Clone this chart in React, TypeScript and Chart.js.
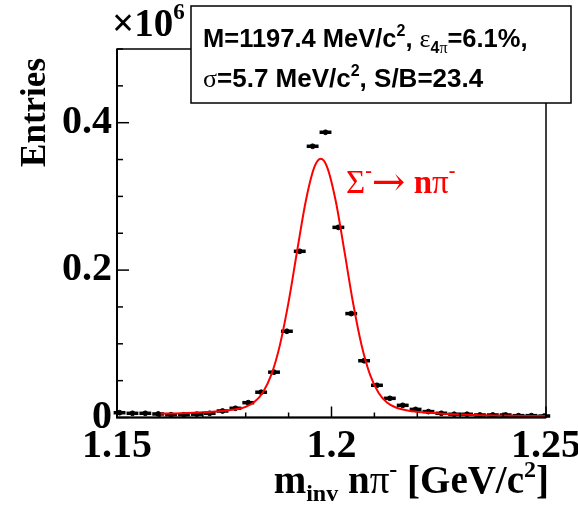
import React, { useEffect, useRef } from 'react';
import { Chart, registerables } from 'chart.js';

Chart.register(...registerables);

// ---- data (values in units of 10^6 entries) ----
const binCenters = [
  1.1506, 1.1536, 1.1566, 1.1596, 1.1626, 1.1656, 1.1686, 1.1716, 1.1746, 1.1776,
  1.1806, 1.1836, 1.1866, 1.1896, 1.1926, 1.1956, 1.1986, 1.2016, 1.2046, 1.2076,
  1.2106, 1.2136, 1.2166, 1.2196, 1.2226, 1.2256, 1.2286, 1.2316, 1.2346, 1.2376,
  1.2406, 1.2436, 1.2466, 1.2496,
];
const counts = [
  0.0065, 0.0057, 0.0057, 0.0048, 0.0038, 0.0038, 0.0045, 0.0057, 0.0088, 0.0125,
  0.0201, 0.0343, 0.0615, 0.117, 0.2255, 0.368, 0.387, 0.258, 0.141, 0.077,
  0.0437, 0.026, 0.0165, 0.011, 0.008, 0.0057, 0.0044, 0.0044, 0.0034, 0.0034,
  0.0034, 0.0025, 0.0025, 0.002,
];
const binHalfWidth = 0.0015;

const curveX = [
  1.16, 1.165, 1.17, 1.175, 1.178, 1.18, 1.182, 1.184, 1.186, 1.188, 1.19, 1.192,
  1.194, 1.196, 1.1975, 1.199, 1.201, 1.203, 1.205, 1.207, 1.209, 1.211, 1.213,
  1.215, 1.218, 1.222, 1.226, 1.23, 1.235, 1.24, 1.245, 1.25,
];
const curveY = [
  0.0052, 0.0058, 0.007, 0.0091, 0.0114, 0.0145, 0.0209, 0.034, 0.0584, 0.0989, 0.1568, 0.2263,
  0.2935, 0.3396, 0.351, 0.3395, 0.2934, 0.226, 0.1564, 0.0984, 0.0578, 0.0332, 0.0201,
  0.0136, 0.0093, 0.0067, 0.0051, 0.004, 0.0031, 0.0026, 0.0022, 0.002,
];

const xTickValues = [1.15, 1.2, 1.25];
const yTickValues = [0, 0.2, 0.4];
const xRange = [1.15, 1.25];
const yRange = [0, 0.5];
const xMinorStep = 0.01;
const yMinorStep = 0.05;

const SERIF = "'Liberation Serif', 'DejaVu Serif', serif";
const SANS = "'Liberation Sans', Arial, sans-serif";

type Seg = { t: string; font: string; dy?: number };

function drawRich(ctx: CanvasRenderingContext2D, segs: Seg[], x: number, y: number, align: 'left' | 'right', color: string) {
  ctx.save();
  ctx.fillStyle = color;
  ctx.textBaseline = 'alphabetic';
  ctx.textAlign = 'left';
  let w = 0;
  for (const s of segs) {
    ctx.font = s.font;
    w += ctx.measureText(s.t).width;
  }
  let cx = align === 'right' ? x - w : x;
  for (const s of segs) {
    ctx.font = s.font;
    ctx.fillText(s.t, cx, y + (s.dy || 0));
    cx += ctx.measureText(s.t).width;
  }
  ctx.restore();
}

const decorPlugin = {
  id: 'decor',
  beforeDatasetsDraw(chart: any) {
    const ctx = chart.ctx as CanvasRenderingContext2D;
    const xs = chart.scales.x;
    const ys = chart.scales.y;
    ctx.save();
    ctx.strokeStyle = '#000';
    ctx.lineWidth = 3.5;
    binCenters.forEach((x, i) => {
      const py = ys.getPixelForValue(counts[i]);
      ctx.beginPath();
      ctx.moveTo(xs.getPixelForValue(x - binHalfWidth) + 0.5, py);
      ctx.lineTo(xs.getPixelForValue(x + binHalfWidth) - 0.5, py);
      ctx.stroke();
    });
    ctx.restore();
  },
  afterDraw(chart: any) {
    const ctx = chart.ctx as CanvasRenderingContext2D;
    const xs = chart.scales.x;
    const ys = chart.scales.y;
    const { left, right, top, bottom } = chart.chartArea;
    ctx.save();
    ctx.strokeStyle = '#000';
    ctx.lineWidth = 1.5;
    ctx.strokeRect(left, top, right - left, bottom - top);
    ctx.lineWidth = 2;
    ctx.beginPath();
    ctx.moveTo(left, top);
    ctx.lineTo(left, bottom);
    ctx.lineTo(right, bottom);
    ctx.stroke();
    ctx.lineWidth = 1.5;
    const nX = Math.round((xRange[1] - xRange[0]) / xMinorStep);
    for (let i = 0; i <= nX; i++) {
      const v = xRange[0] + i * xMinorStep;
      const px = xs.getPixelForValue(v);
      const major = i % 5 === 0;
      ctx.beginPath();
      ctx.moveTo(px, bottom);
      ctx.lineTo(px, bottom - (major ? 11 : 5));
      ctx.stroke();
    }
    const nY = Math.round((yRange[1] - yRange[0]) / yMinorStep);
    for (let i = 0; i <= nY; i++) {
      const v = yRange[0] + i * yMinorStep;
      const py = ys.getPixelForValue(v);
      const major = i % 4 === 0;
      ctx.beginPath();
      ctx.moveTo(left, py);
      ctx.lineTo(left + (major ? 12 : 6), py);
      ctx.stroke();
    }
    ctx.restore();

    // x10^6
    drawRich(ctx, [
      { t: '\u00d710', font: `bold 39px ${SERIF}` },
      { t: '6', font: `bold 23px ${SERIF}`, dy: -17 },
    ], 112, 36, 'left', '#000');

    // y title
    ctx.save();
    ctx.translate(45, 58);
    ctx.rotate(-Math.PI / 2);
    ctx.font = `bold 35px ${SERIF}`;
    ctx.fillStyle = '#000';
    ctx.textAlign = 'right';
    ctx.textBaseline = 'alphabetic';
    ctx.fillText('Entries', 0, 0);
    ctx.restore();

    // x title
    drawRich(ctx, [
      { t: 'm', font: `bold 39px ${SERIF}` },
      { t: 'inv', font: `bold 24px ${SERIF}`, dy: 8 },
      { t: ' n', font: `bold 39px ${SERIF}` },
      { t: '\u03c0', font: `39px ${SERIF}` },
      { t: '-', font: `bold 24px ${SERIF}`, dy: -16 },
      { t: ' [GeV/c', font: `bold 39px ${SERIF}` },
      { t: '2', font: `bold 24px ${SERIF}`, dy: -16 },
      { t: ']', font: `bold 39px ${SERIF}` },
    ], 549, 493, 'right', '#000');

    // red label
    drawRich(ctx, [
      { t: '\u03a3', font: `33px ${SERIF}` },
      { t: '-', font: `bold 20px ${SERIF}`, dy: -16 },
      { t: '\u2192', font: `40px 'DejaVu Serif', serif`, dy: 2 },
      { t: ' n', font: `bold 33px ${SERIF}` },
      { t: '\u03c0', font: `33px ${SERIF}` },
      { t: '-', font: `bold 20px ${SERIF}`, dy: -16 },
    ], 346, 193, 'left', '#ff0000');

    // info box
    ctx.save();
    ctx.fillStyle = '#fff';
    ctx.fillRect(191, 6, 380, 97);
    ctx.strokeStyle = '#000';
    ctx.lineWidth = 1.5;
    ctx.strokeRect(191, 6, 380, 97);
    ctx.restore();
    drawRich(ctx, [
      { t: 'M=1197.4 MeV/c', font: `bold 25.5px ${SANS}` },
      { t: '2', font: `bold 16px ${SANS}`, dy: -11 },
      { t: ', ', font: `bold 25.5px ${SANS}` },
      { t: '\u03b5', font: `26px ${SERIF}` },
      { t: '4', font: `bold 16px ${SANS}`, dy: 6 },
      { t: '\u03c0', font: `16px ${SERIF}`, dy: 6 },
      { t: '=6.1%,', font: `bold 25.5px ${SANS}` },
    ], 203, 47, 'left', '#000');
    drawRich(ctx, [
      { t: '\u03c3', font: `26px ${SERIF}` },
      { t: '=5.7 MeV/c', font: `bold 26px ${SANS}` },
      { t: '2', font: `bold 16px ${SANS}`, dy: -11 },
      { t: ', S/B=23.4', font: `bold 26px ${SANS}` },
    ], 203, 87, 'left', '#000');
  },
};

export default function App() {
  const ref = useRef<HTMLCanvasElement>(null);
  useEffect(() => {
    const canvas = ref.current!;
    const chart = new Chart(canvas, {
      type: 'scatter',
      data: {
        datasets: [
          {
            type: 'line',
            data: curveX.map((x, i) => ({ x, y: curveY[i] })),
            borderColor: '#ff0000',
            borderWidth: 2,
            pointRadius: 0,
            cubicInterpolationMode: 'monotone',
            fill: false,
            order: 0,
          } as any,
          {
            type: 'scatter',
            data: binCenters.map((x, i) => ({ x, y: counts[i] })),
            backgroundColor: '#000',
            borderColor: '#000',
            pointRadius: 2.4,
            pointStyle: 'circle',
            order: 1,
          } as any,
        ],
      },
      options: {
        responsive: false,
        animation: false,
        devicePixelRatio: 1,
        layout: { padding: { left: 0, top: 49, right: 32, bottom: 0 }, autoPadding: false } as any,
        plugins: { legend: { display: false }, tooltip: { enabled: false } },
        scales: {
          x: {
            type: 'linear',
            min: xRange[0],
            max: xRange[1],
            afterFit: (s: any) => { s.height = 89.5; s.paddingLeft = 0; s.paddingRight = 0; },
            afterBuildTicks: (s: any) => { s.ticks = xTickValues.map((v) => ({ value: v })); },
            grid: { display: false, drawTicks: false, tickLength: 0 },
            border: { display: false },
            ticks: {
              color: '#000',
              font: { family: SERIF, size: 40, weight: 'bold' },
              padding: 5,
              maxRotation: 0,
              autoSkip: false,
              callback: (v: any) => String(Number(v)),
            },
          },
          y: {
            type: 'linear',
            min: yRange[0],
            max: yRange[1],
            afterFit: (s: any) => { s.width = 117; s.paddingTop = 0; s.paddingBottom = 0; },
            afterBuildTicks: (s: any) => { s.ticks = yTickValues.map((v) => ({ value: v })); },
            grid: { display: false, drawTicks: false, tickLength: 0 },
            border: { display: false },
            ticks: {
              color: '#000',
              font: { family: SERIF, size: 40, weight: 'bold' },
              padding: 5,
              autoSkip: false,
              callback: (v: any) => String(Number(v)),
            },
          },
        },
      } as any,
      plugins: [decorPlugin],
    });
    return () => chart.destroy();
  }, []);
  return (
    <div style={{ position: 'fixed', left: 0, top: 0, width: 578, height: 507, background: '#fff' }}>
      <canvas ref={ref} width={578} height={507} style={{ width: 578, height: 507, display: 'block' }} />
    </div>
  );
}
